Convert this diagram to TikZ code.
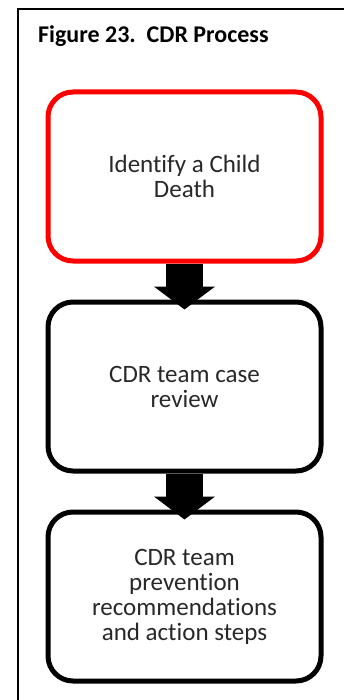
\documentclass[tikz,border=0pt]{standalone}
\usepackage{fontspec}
\setmainfont{Carlito}[Ligatures=NoCommon]
\usepackage{tikz}
\usepackage{xcolor}
\usetikzlibrary{arrows.meta, positioning}

\definecolor{cdrred}{RGB}{255,0,0}
\definecolor{cdrtext}{RGB}{40,40,40}

\begin{document}
\begin{tikzpicture}[node distance=210pt, on grid, stage/.style={rectangle, rounded corners=25pt, draw, line width=5pt, minimum width=273pt, minimum height=169pt, align=center, text=cdrtext, font=\fontsize{25}{25}\selectfont}, flow/.style={line width=37pt, -{Triangle[width=60pt, length=23pt]}}]

            \useasboundingbox (0,0) rectangle (344pt,-700pt);
            % frame of the figure, cut off at right and bottom
            \draw[line width=1.5pt] (346pt,-9pt) -- (18pt,-9pt) -- (18pt,-702pt);
            \node[anchor=base west, inner sep=0pt, font=\bfseries\fontsize{24}{28}\selectfont] (title) at (38pt,-42.7pt) {Figure 23.\ \ CDR Process};

            \node[stage, draw=cdrred] (Q1) at (184.5pt,-176.5pt) {Identify a Child\\Death};
            \node[stage, below=of Q1] (Q2) {CDR team case\\review};
            \node[stage, below=of Q2] (Q3) {CDR team\\prevention\\recommendations\\and action steps};

            \draw[flow] (Q1.south) -- ([yshift=-10pt]Q2.north);
            \draw[flow] (Q2.south) -- ([yshift=-10pt]Q3.north);

        \end{tikzpicture}
\end{document}
